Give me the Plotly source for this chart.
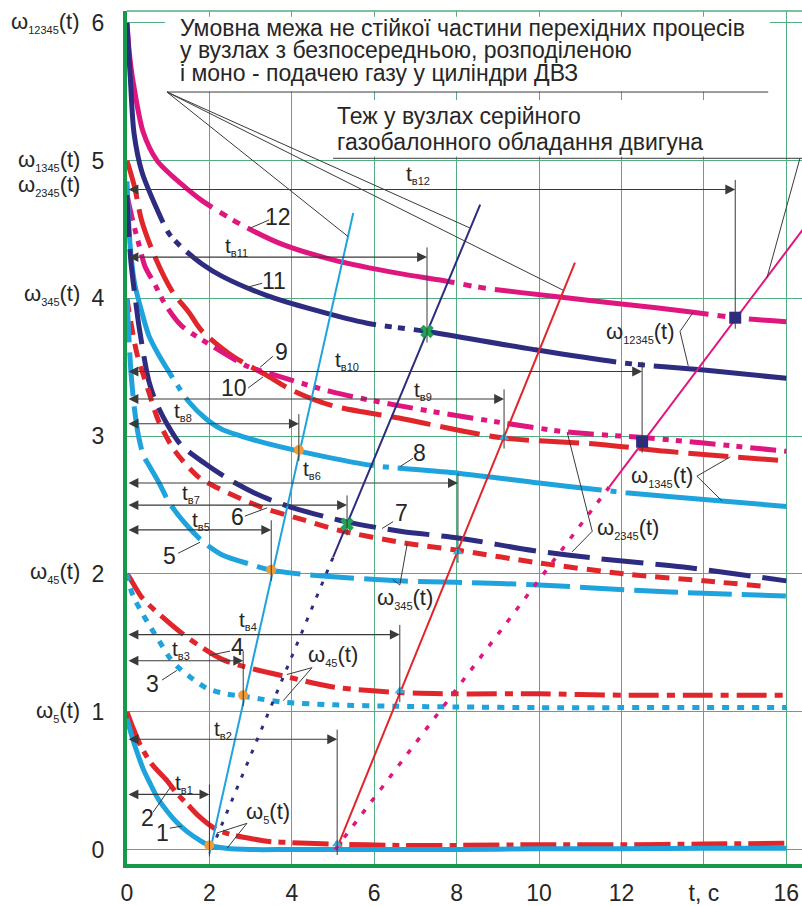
import plotly.graph_objects as go

# ---------------- transient curves ω(t) ----------------
t_c1 = [0, 0.12, 0.24, 0.4, 0.56, 0.75, 0.97, 1.2, 1.46, 1.75, 2.0, 2.4, 3.0, 4, 6, 8, 10, 12, 14, 16]
w_c1 = [0.95, 0.82, 0.71, 0.58, 0.48, 0.37, 0.28, 0.2, 0.13, 0.07, 0.03, 0.01, 0.0, 0.0, 0.0, 0.0, 0.005, 0.005, 0.01, 0.01]

t_c2 = [0, 0.15, 0.32, 0.6, 0.97, 1.2, 1.46, 1.75, 2.09, 2.5, 3.0, 3.4, 4.0, 5.0, 6.6, 8, 10, 12, 14, 16]
w_c2 = [1.0, 0.88, 0.76, 0.62, 0.5, 0.41, 0.33, 0.24, 0.16, 0.11, 0.08, 0.06, 0.05, 0.04, 0.03, 0.03, 0.035, 0.035, 0.04, 0.045]

t_c3 = [0, 0.05, 0.15, 0.36, 0.6, 0.85, 1.04, 1.25, 1.5, 1.94, 2.4, 2.86, 3.3, 3.79, 5.0, 6.55, 8, 10, 12, 14, 16]
w_c3 = [2.0, 1.93, 1.84, 1.72, 1.6, 1.48, 1.39, 1.32, 1.26, 1.17, 1.13, 1.11, 1.09, 1.07, 1.05, 1.04, 1.035, 1.03, 1.03, 1.03, 1.03]

t_c4 = [0, 0.05, 0.36, 0.85, 1.33, 1.75, 2.31, 2.82, 3.79, 5.0, 6.6, 8, 10, 12, 14, 16]
w_c4 = [2.0, 1.98, 1.83, 1.69, 1.57, 1.48, 1.38, 1.33, 1.26, 1.18, 1.14, 1.13, 1.13, 1.12, 1.12, 1.12]

t_c5 = [0, 0.04, 0.1, 0.18, 0.28, 0.4, 0.55, 0.78, 1.02, 1.4, 1.82, 2.3, 3.0, 3.47, 4.2, 5, 6.63, 8, 10, 12.45, 14, 16]
w_c5 = [4.0, 3.75, 3.45, 3.2, 3.0, 2.86, 2.78, 2.66, 2.52, 2.37, 2.24, 2.14, 2.07, 2.03, 2.0, 1.98, 1.95, 1.94, 1.92, 1.88, 1.86, 1.84]

t_c6 = [0, 0.05, 0.12, 0.24, 0.36, 0.53, 0.78, 1.17, 1.75, 2.23, 3.3, 4.2, 5.1, 6.63, 8.08, 10, 12.1, 14, 15.5]
w_c6 = [4.0, 3.9, 3.78, 3.6, 3.48, 3.32, 3.1, 2.89, 2.7, 2.62, 2.48, 2.4, 2.32, 2.23, 2.17, 2.08, 2.0, 1.95, 1.91]

t_c7 = [0, 0.04, 0.1, 0.2, 0.3, 0.53, 0.7, 0.95, 1.3, 1.9, 2.57, 3.3, 4.03, 5.3, 6.63, 8.08, 9.85, 11.5, 13.5, 16]
w_c7 = [4.75, 4.5, 4.25, 4.0, 3.78, 3.4, 3.25, 3.1, 2.94, 2.8, 2.67, 2.56, 2.48, 2.38, 2.31, 2.26, 2.17, 2.11, 2.05, 1.95]

t_c8 = [0, 0.05, 0.1, 0.19, 0.36, 0.53, 0.75, 0.95, 1.2, 1.5, 1.9, 2.3, 3.23, 4.2, 5.9, 8.08, 10, 11.5, 12.1, 14, 16]
w_c8 = [4.85, 4.5, 4.3, 4.1, 3.9, 3.73, 3.6, 3.5, 3.38, 3.25, 3.13, 3.05, 2.96, 2.89, 2.79, 2.73, 2.66, 2.61, 2.59, 2.54, 2.49]

t_c9 = [0, 0.15, 0.3, 0.44, 0.68, 0.92, 1.33, 2.09, 2.9, 3.63, 5.0, 6.63, 9.05, 10.7, 12.52, 14, 16]
w_c9 = [4.75, 4.55, 4.38, 4.23, 4.1, 3.96, 3.8, 3.65, 3.51, 3.44, 3.32, 3.22, 3.1, 3.03, 2.99, 2.95, 2.89]

t_c10 = [0, 0.1, 0.19, 0.36, 0.68, 1.1, 1.5, 1.8, 2.57, 3.4, 4.03, 5.0, 6.63, 9.05, 11.5, 13.1, 16]
w_c10 = [5.0, 4.9, 4.8, 4.56, 4.3, 4.05, 3.9, 3.77, 3.58, 3.44, 3.33, 3.22, 3.13, 2.99, 2.94, 2.89, 2.82]

t_c11 = [0, 0.08, 0.17, 0.36, 0.68, 1.02, 1.33, 1.82, 2.31, 3.4, 4.5, 5.83, 7.28, 9.85, 12.1, 14, 16]
w_c11 = [6.0, 5.6, 5.2, 4.92, 4.68, 4.47, 4.37, 4.25, 4.16, 4.02, 3.92, 3.82, 3.76, 3.63, 3.53, 3.48, 3.42]

t_c12 = [0, 0.05, 0.15, 0.39, 0.73, 1.09, 1.36, 1.82, 2.74, 3.79, 5.0, 6.63, 7.67, 8.57, 10.5, 12, 13.74, 14.76, 16]
w_c12 = [6.0, 5.8, 5.57, 5.21, 5.0, 4.89, 4.82, 4.71, 4.54, 4.39, 4.28, 4.18, 4.13, 4.08, 4.01, 3.96, 3.9, 3.86, 3.83]

# ---------------- boundaries of the unstable part ----------------
t_l1 = [2.0, 5.49]            # direct supply
w_l1 = [-0.03, 4.62]
t_l2 = [2.05, 5.0, 8.57]      # distributed supply (dotted below 5 s)
w_l2 = [0.0, 2.12, 4.68]
t_l3 = [5.08, 10.87]          # mono supply
w_l3 = [0.0, 4.26]
t_l4 = [5.05, 11.7, 16.4]     # serial gas-cylinder equipment (dotted lower part)
w_l4 = [0.0, 2.63, 4.5]

# ---------------- recovery times t_в1 ... t_в12 ----------------
t_rec = [2.0, 5.1, 2.82, 6.62, 3.5, 8.03, 5.34, 4.17, 9.15, 12.5, 7.28, 14.76]
w_rec = [0.03, 0.04, 1.12, 1.15, 2.03, 2.16, 2.36, 2.9, 2.99, 2.96, 3.76, 3.86]
rec_kind = ["o", "t", "o", "t", "o", "t", "x", "o", "t", "s", "x", "s"]
arrow_lvl = [0.40, 0.80, 1.37, 1.56, 2.32, 2.66, 2.50, 3.09, 3.27, 3.47, 4.30, 4.79]
rec_names = ["в1", "в2", "в3", "в4", "в5", "в6", "в7", "в8", "в9", "в10", "в11", "в12"]
rec_label_xy = [(1.38, 0.48), (2.33, 0.87), (1.31, 1.45), (2.94, 1.66), (1.8, 2.39),
                (4.49, 2.76), (1.55, 2.585), (1.36, 3.18), (7.18, 3.33), (5.34, 3.55),
                (2.65, 4.38), (7.06, 4.90)]

x_ticks = [0, 2, 4, 6, 8, 10, 12, 14, 16]
x_ticktext = ["0", "2", "4", "6", "8", "10", "12", "t, c", "16"]
y_ticks = [0, 1, 2, 3, 4, 5, 6]

MAGENTA = "#e0167f"
NAVY = "#2d2c80"
RED = "#e1262b"
BLUE = "#1ea3dd"
GRID = "#52ad82"
AXIS = "#139a4b"
INK = "#3a3a3a"
TXT = "#262626"
FONT = "Liberation Sans, Arial, sans-serif"

fig = go.Figure()

# white panels under the two caption blocks (the grid does not show through)
fig.add_trace(go.Scatter(x=[0.92, 15.6, 15.6, 0.92, 0.92], y=[5.5, 5.5, 6.045, 6.045, 5.5],
                         fill="toself", fillcolor="white", mode="lines", line=dict(width=0),
                         hoverinfo="skip", showlegend=False))
fig.add_trace(go.Scatter(x=[5.0, 15.3, 15.3, 5.0, 5.0], y=[5.03, 5.03, 5.44, 5.44, 5.03],
                         fill="toself", fillcolor="white", mode="lines", line=dict(width=0),
                         hoverinfo="skip", showlegend=False))

curves = [
    (t_c12, w_c12, MAGENTA, "215px,9px,8px,7px,8px,9px"),
    (t_c11, w_c11, NAVY, "205px,9px,7px,6px,7px,9px"),
    (t_c10, w_c10, RED, "40px,10px"),
    (t_c9, w_c9, MAGENTA, "26px,8px,6px,7px,6px,8px"),
    (t_c8, w_c8, BLUE, "205px,9px,6px,9px"),
    (t_c7, w_c7, NAVY, "42px,12px"),
    (t_c6, w_c6, RED, "14px,9px"),
    (t_c5, w_c5, BLUE, "44px,10px"),
    (t_c4, w_c4, RED, "30px,8px,8px,8px"),
    (t_c3, w_c3, BLUE, "7px,8px"),
    (t_c2, w_c2, RED, "36px,7px,7px,7px"),
    (t_c1, w_c1, BLUE, "solid"),
]
for tt, ww, col, dash in curves:
    fig.add_trace(go.Scatter(x=tt, y=ww, mode="lines",
                             line=dict(color=col, width=5, dash=dash, shape="spline", smoothing=0.8),
                             hoverinfo="skip", showlegend=False))

# boundary lines
fig.add_trace(go.Scatter(x=t_l1, y=w_l1, mode="lines", line=dict(color=BLUE, width=2), showlegend=False))
fig.add_trace(go.Scatter(x=t_l2[:2], y=w_l2[:2], mode="lines",
                         line=dict(color=NAVY, width=3, dash="4px,9px"), showlegend=False))
fig.add_trace(go.Scatter(x=t_l2[1:], y=w_l2[1:], mode="lines", line=dict(color=NAVY, width=2), showlegend=False))
fig.add_trace(go.Scatter(x=t_l3, y=w_l3, mode="lines", line=dict(color=RED, width=2), showlegend=False))
fig.add_trace(go.Scatter(x=t_l4[:2], y=w_l4[:2], mode="lines",
                         line=dict(color=MAGENTA, width=3.5, dash="5px,10px"), showlegend=False))
fig.add_trace(go.Scatter(x=t_l4[1:], y=w_l4[1:], mode="lines", line=dict(color=MAGENTA, width=2), showlegend=False))

# dimension lines for the recovery times
shapes = []
annotations = []
for tr, wr, lvl in zip(t_rec, w_rec, arrow_lvl):
    shapes.append(dict(type="line", x0=tr, x1=tr, y0=wr - 0.08, y1=lvl + 0.07,
                       line=dict(color=INK, width=1)))
    annotations.append(dict(x=tr, y=lvl, ax=0, ay=lvl, axref="x", ayref="y", xref="x", yref="y",
                            text="", showarrow=True, arrowhead=2, arrowside="end+start",
                            arrowsize=1.8, arrowwidth=1.1, arrowcolor=INK))
for name, (lx, ly) in zip(rec_names, rec_label_xy):
    annotations.append(dict(x=lx, y=ly, xref="x", yref="y", showarrow=False,
                            text=f"t<sub><span style='font-size:11px'>{name}</span></sub>",
                            font=dict(size=21, color=TXT)))

# recovery points on the curves
marker_style = {
    "o": dict(symbol="circle", size=10, color="#f29a36"),
    "t": dict(symbol="triangle-up", size=9, color="#3aafe0"),
    "x": dict(symbol="x", size=12, color="#1fa552"),
    "s": dict(symbol="square", size=12, color=NAVY),
}
for kind, ms in marker_style.items():
    xs = [t for t, k in zip(t_rec, rec_kind) if k == kind]
    ys = [w for w, k in zip(w_rec, rec_kind) if k == kind]
    fig.add_trace(go.Scatter(x=xs, y=ys, mode="markers", marker=ms, showlegend=False, hoverinfo="skip"))

# curve numbers with leaders: (text, label x, label y, leader start, leader end)
numbers = [
    ("12", 3.67, 4.59, (3.45, 4.57), (2.99, 4.51)),
    ("11", 3.57, 4.13, (3.28, 4.11), (2.91, 4.08)),
    ("9", 3.76, 3.61, (3.54, 3.58), (3.23, 3.50)),
    ("10", 2.60, 3.35, (2.94, 3.35), (3.30, 3.43)),
    ("8", 7.11, 2.88, (6.94, 2.84), (6.63, 2.78)),
    ("7", 6.65, 2.44, (6.46, 2.38), (6.19, 2.33)),
    ("6", 2.67, 2.41, (2.86, 2.42), (3.40, 2.48)),
    ("5", 1.04, 2.13, (1.24, 2.15), (1.77, 2.23)),
    ("4", 2.67, 1.47, (2.50, 1.44), (2.01, 1.41)),
    ("3", 0.63, 1.20, (0.85, 1.23), (1.21, 1.30)),
    ("2", 0.49, 0.23, (0.63, 0.27), (1.05, 0.45)),
    ("1", 0.87, 0.12, (1.04, 0.155), (1.33, 0.17)),
]
for txt, lx, ly, p0, p1 in numbers:
    annotations.append(dict(x=lx, y=ly, xref="x", yref="y", text=txt, showarrow=False,
                            font=dict(size=23, color=TXT)))
    shapes.append(dict(type="line", x0=p0[0], y0=p0[1], x1=p1[0], y1=p1[1],
                       line=dict(color=INK, width=1)))


def omega(sub):
    return f"ω<sub><span style='font-size:11px'>{sub}</span></sub>(t)"


# in-plot group labels with bracket leaders: (sub, x, y, vertex, targets)
groups = [
    ("12345", 12.45, 3.75, (13.42, 3.76), [(13.74, 3.90), (13.62, 3.51)]),
    ("1345", 12.99, 2.71, (13.83, 2.71), [(14.64, 2.85), (14.44, 2.53)]),
    ("2345", 12.16, 2.33, (11.29, 2.31), [(10.68, 3.03), (10.80, 2.16)]),
    ("345", 6.75, 1.82, (6.62, 1.92), [(6.80, 2.22), (6.45, 1.96)]),
    ("45", 5.00, 1.41, (4.49, 1.32), [(3.88, 1.27), (3.79, 1.08)]),
    ("5", 3.42, 0.27, (2.91, 0.19), [(2.18, 0.12), (2.43, 0.01)]),
]
for sub, gx, gy, v, targets in groups:
    annotations.append(dict(x=gx, y=gy, xref="x", yref="y", text=omega(sub), showarrow=False,
                            font=dict(size=22, color=TXT)))
    for tx, ty in targets:
        shapes.append(dict(type="line", x0=v[0], y0=v[1], x1=tx, y1=ty, line=dict(color=INK, width=1)))

# axis-side labels of the initial values
side_labels = [("12345", 6.0), ("1345", 5.0), ("2345", 4.82), ("345", 4.03), ("45", 2.01), ("5", 1.0)]
for sub, yy in side_labels:
    annotations.append(dict(x=-0.066, y=yy, xref="paper", yref="y", xanchor="right", text=omega(sub),
                            showarrow=False, font=dict(size=22, color=TXT)))

# caption blocks
cap1 = ["Умовна межа не стійкої частини перехідних процесів",
        "у вузлах з безпосередньою, розподіленою",
        "і моно - подачею газу у циліндри ДВЗ"]
for line, yy in zip(cap1, [5.964, 5.80, 5.635]):
    annotations.append(dict(x=1.24, y=yy, xref="x", yref="y", xanchor="left", text=line,
                            showarrow=False, font=dict(size=23, color=TXT)))
cap2 = ["Теж у вузлах серійного", "газобалонного обладання двигуна"]
for line, yy in zip(cap2, [5.325, 5.132]):
    annotations.append(dict(x=5.05, y=yy, xref="x", yref="y", xanchor="left", text=line,
                            showarrow=False, font=dict(size=23, color=TXT)))

# underlines and pointer lines of the captions
shapes.append(dict(type="line", x0=0.97, x1=15.56, y0=5.498, y1=5.498, line=dict(color=INK, width=1)))
shapes.append(dict(type="line", x0=5.0, x1=16.38, y0=5.017, y1=5.017, line=dict(color=INK, width=1)))
for tx, ty in [(5.36, 4.45), (8.33, 4.51), (10.58, 4.06)]:
    shapes.append(dict(type="line", x0=0.97, y0=5.498, x1=tx, y1=ty, line=dict(color=INK, width=1)))
shapes.append(dict(type="line", x0=16.33, y0=5.017, x1=15.53, y1=4.15, line=dict(color=INK, width=1)))

# top frame line
shapes.append(dict(type="line", xref="paper", yref="paper", x0=0, x1=1, y0=1, y1=1,
                   line=dict(color=GRID, width=1.5)))

fig.update_layout(
    width=802, height=906,
    margin=dict(l=127, r=0, t=11, b=32),
    paper_bgcolor="white", plot_bgcolor="white",
    showlegend=False,
    font=dict(family=FONT, size=22, color=TXT),
    xaxis=dict(range=[0, 16.38], tickvals=x_ticks, ticktext=x_ticktext,
               showgrid=True, gridcolor=GRID, gridwidth=1.2, zeroline=False,
               showline=True, linecolor=AXIS, linewidth=4, ticks="",
               ticklabelstandoff=5, tickfont=dict(size=23, color=TXT)),
    yaxis=dict(range=[-0.105, 6.086], tickvals=y_ticks,
               showgrid=True, gridcolor=GRID, gridwidth=1.2, zeroline=False,
               showline=True, linecolor=AXIS, linewidth=4, ticks="",
               ticklabelstandoff=14, tickfont=dict(size=23, color=TXT)),
    shapes=shapes,
    annotations=annotations,
)

fig.write_html("out.html")
